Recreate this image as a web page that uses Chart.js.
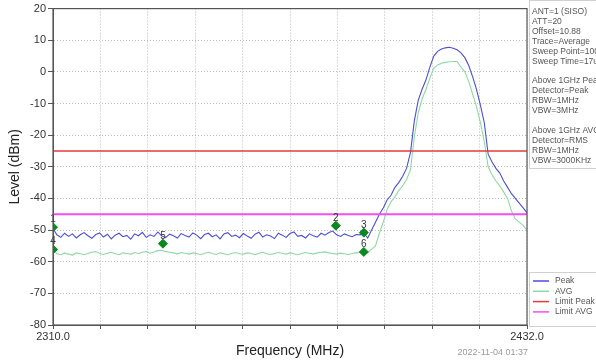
<!DOCTYPE html>
<html>
<head>
<meta charset="utf-8">
<script src="https://cdn.jsdelivr.net/npm/chart.js@4.4.1/dist/chart.umd.min.js"></script>
<style>
html,body{margin:0;padding:0;background:#fff;}
#wrap{position:relative;width:596px;height:360px;}
</style>
</head>
<body>
<div id="wrap"><canvas id="c" width="596" height="360"></canvas></div>
<script>
// ---- data ----
const freqs = [
2310,2311,2312,2313,2314,2315,2316,2317,2318,2319,
2320,2321,2322,2323,2324,2325,2326,2327,2328,2329,
2330,2331,2332,2333,2334,2335,2336,2337,2338,2339,
2340,2341,2342,2343,2344,2345,2346,2347,2348,2349,
2350,2351,2352,2353,2354,2355,2356,2357,2358,2359,
2360,2361,2362,2363,2364,2365,2366,2367,2368,2369,
2370,2371,2372,2373,2374,2375,2376,2377,2378,2379,
2380,2381,2382,2383,2384,2385,2386,2387,2388,2389,
2390,2391,2392,2393,2394,2395,2396,2397,2398,2399,
2400,2401,2402,2403,2404,2405,2406,2407,2408,2409,
2410,2411,2412,2413,2414,2415,2416,2417,2418,2419,
2420,2421,2422,2423,2424,2425,2426,2427,2428,2429,
2430,2431,2432];

const peakLevels = [
-49.5,-51.5,-52.3,-51.0,-52.0,-51.2,-52.5,-51.5,-50.8,-51.8,
-52.6,-51.4,-50.9,-52.2,-51.3,-52.8,-51.6,-51.0,-52.1,-51.7,
-52.9,-51.2,-51.8,-50.7,-52.3,-51.5,-52.0,-50.6,-51.9,-52.4,
-51.3,-51.8,-52.5,-51.1,-51.7,-52.2,-50.9,-51.6,-52.7,-51.4,
-51.0,-52.1,-51.5,-52.8,-51.2,-50.8,-52.0,-51.6,-52.4,-51.1,
-51.9,-52.6,-51.3,-50.7,-52.2,-51.5,-51.9,-52.7,-51.0,-51.6,
-52.3,-51.1,-50.6,-52.0,-51.7,-52.5,-51.2,-51.8,-52.2,-51.0,
-51.6,-50.8,-50.3,-51.5,-52.0,-51.2,-51.7,-52.1,-51.4,-51.5,
-51.0,-52.5,-50.0,-47.5,-45.0,-43.0,-40.5,-39.0,-36.5,-35.0,
-33.0,-30.5,-25.5,-15.5,-9.0,-5.5,-2.5,1.5,5.0,6.5,
7.2,7.6,7.8,7.5,7.0,6.0,4.5,2.0,-1.5,-5.5,
-10.5,-16.0,-26.0,-28.5,-30.5,-32.0,-34.5,-36.5,-38.5,-40.0,
-41.5,-43.0,-44.5];

const avgLevels = [
-56.0,-57.5,-57.8,-57.3,-57.6,-57.9,-57.2,-57.5,-57.8,-57.4,
-57.0,-56.8,-57.4,-57.7,-57.3,-57.0,-57.5,-57.8,-57.2,-57.4,
-57.6,-57.1,-57.4,-57.0,-56.8,-57.3,-56.9,-56.5,-56.4,-56.8,
-57.0,-57.2,-57.5,-57.1,-57.3,-57.6,-57.2,-57.4,-57.8,-57.3,
-57.0,-57.4,-57.7,-57.2,-57.5,-57.8,-57.4,-57.1,-57.5,-57.6,
-57.2,-57.4,-57.8,-57.3,-57.0,-57.5,-57.7,-57.4,-57.1,-57.3,
-57.6,-57.2,-57.5,-57.8,-57.4,-57.1,-57.3,-57.6,-57.2,-57.0,
-56.9,-57.2,-57.4,-57.6,-57.3,-57.5,-57.7,-57.4,-57.2,-57.1,
-57.0,-57.2,-56.0,-55.0,-51.0,-47.5,-43.5,-41.0,-39.5,-37.5,
-36.0,-34.0,-31.0,-20.5,-13.0,-8.5,-5.5,-2.0,1.2,2.2,
2.7,3.0,3.2,3.3,3.3,1.5,0.0,-3.0,-7.0,-11.0,
-16.0,-22.0,-30.0,-32.5,-34.5,-36.0,-38.0,-40.0,-44.0,-46.5,
-47.5,-48.5,-50.0];

const limitPeak = -25;
const limitAvg = -45;

const markerNames  = ["1","2","3","4","5","6"];
const markerFreqs  = [2310.0, 2382.8, 2390.0, 2310.0, 2338.3, 2390.0];
const markerLevels = [-49.1, -48.6, -50.8, -56.1, -54.3, -56.9];

const xTicks = [2310,2322.2,2334.4,2346.6,2358.8,2371,2383.2,2395.4,2407.6,2419.8,2432];
const yTicks = [20,10,0,-10,-20,-30,-40,-50,-60,-70,-80];

const infoLines = ["ANT=1 (SISO)","ATT=20","Offset=10.88","Trace=Average","Sweep Point=1001","Sweep Time=17us",
  "","Above 1GHz Peak","Detector=Peak","RBW=1MHz","VBW=3MHz","","Above 1GHz AVG","Detector=RMS","RBW=1MHz","VBW=3000KHz"];
const legendNames = ["Peak","AVG","Limit Peak","Limit AVG"];
const timestamp = "2022-11-04 01:37";

// ---- styles ----
const COLORS = {peak:'#4d4dd6', avg:'#8fd8a4', limPeak:'#e33a3a', limAvg:'#f54cf5', marker:'#0a8a1e'};
const FONT = "'Liberation Sans', Arial, sans-serif";

const xMin = xTicks[0], xMax = xTicks[xTicks.length-1];

const extrasPlugin = {
  id:'extras',
  afterDatasetsDraw(chart){
    const ctx = chart.ctx;
    const meta = chart.getDatasetMeta(4);
    ctx.save();
    ctx.font = "10px " + FONT;
    ctx.fillStyle = '#333';
    ctx.textAlign = 'center';
    ctx.textBaseline = 'alphabetic';
    meta.data.forEach((pt,i)=>{
      ctx.fillText(markerNames[i], pt.x, pt.y - 5);
    });
    ctx.restore();
  },
  afterDraw(chart){
    const ctx = chart.ctx;
    const ca = chart.chartArea;
    ctx.save();
    // frame
    ctx.strokeStyle = '#555';
    ctx.lineWidth = 1.2;
    ctx.strokeRect(ca.left, ca.top, ca.right-ca.left, ca.bottom-ca.top);
    // info box
    ctx.strokeStyle = '#d0d0d0';
    ctx.lineWidth = 1;
    ctx.strokeRect(529.5, 0.5, 80, 168);
    ctx.font = "8.5px " + FONT;
    ctx.fillStyle = '#555';
    ctx.textAlign = 'left';
    ctx.textBaseline = 'middle';
    infoLines.forEach((t,i)=>{
      ctx.fillText(t, 532, 11.5 + i*9.95);
    });
    // legend box
    ctx.strokeStyle = '#d0d0d0';
    ctx.strokeRect(529.5, 272.5, 80, 54);
    const lcols = [COLORS.peak, COLORS.avg, COLORS.limPeak, COLORS.limAvg];
    legendNames.forEach((t,i)=>{
      const y = 281 + i*10.3;
      ctx.strokeStyle = lcols[i];
      ctx.lineWidth = 1.5;
      ctx.beginPath(); ctx.moveTo(533, y); ctx.lineTo(549, y); ctx.stroke();
      ctx.fillStyle = '#555';
      ctx.fillText(t, 555, y);
    });
    // timestamp
    ctx.font = "9px " + FONT;
    ctx.fillStyle = '#9a9a9a';
    ctx.textAlign = 'right';
    ctx.fillText(timestamp, 528, 353);
    ctx.restore();
  }
};

new Chart(document.getElementById('c'), {
  type:'line',
  data:{
    datasets:[
      {label:'Peak', data:freqs.map((f,i)=>({x:f,y:peakLevels[i]})), borderColor:COLORS.peak, borderWidth:1.1, pointRadius:0, order:3},
      {label:'AVG', data:freqs.map((f,i)=>({x:f,y:avgLevels[i]})), borderColor:COLORS.avg, borderWidth:1.1, pointRadius:0, order:4},
      {label:'Limit Peak', data:[{x:xMin,y:limitPeak},{x:xMax,y:limitPeak}], borderColor:COLORS.limPeak, borderWidth:1.3, pointRadius:0, order:2},
      {label:'Limit AVG', data:[{x:xMin,y:limitAvg},{x:xMax,y:limitAvg}], borderColor:COLORS.limAvg, borderWidth:2, pointRadius:0, order:1},
      {label:'Markers', type:'scatter', data:markerFreqs.map((f,i)=>({x:f,y:markerLevels[i]})),
        pointStyle:'rectRot', pointRadius:4.5, backgroundColor:COLORS.marker, borderColor:COLORS.marker, showLine:false, order:0}
    ]
  },
  options:{
    animation:false,
    responsive:false,
    devicePixelRatio:1,
    layout:{padding:{top:7, right:69, left:0, bottom:0}},
    plugins:{legend:{display:false}, tooltip:{enabled:false}, title:{display:false}},
    elements:{line:{tension:0}},
    scales:{
      x:{
        type:'linear', min:xMin, max:xMax,
        afterBuildTicks(s){ s.ticks = xTicks.map(v=>({value:v})); },
        afterFit(s){ s.height = 35; },
        grid:{color:'#bdbdbd', lineWidth:1, tickColor:'#555', tickLength:4, drawTicks:true},
        border:{display:true, color:'#555', dash:[1,2]},
        ticks:{autoSkip:false, maxRotation:0, padding:1, color:'#333', font:{family:FONT, size:11},
          callback(v,i){ return (i===0||i===xTicks.length-1) ? Number(v).toFixed(1) : ''; }},
        title:{display:true, text:'Frequency (MHz)', color:'#222', font:{family:FONT, size:14}, padding:{top:0,bottom:0}}
      },
      y:{
        type:'linear', min:-80, max:20,
        afterBuildTicks(s){ s.ticks = yTicks.map(v=>({value:v})); },
        afterFit(s){ s.width = 53; },
        grid:{color:'#bdbdbd', lineWidth:1, tickColor:'#555', tickLength:5},
        border:{display:true, color:'#555', dash:[1,2]},
        ticks:{padding:2, color:'#333', font:{family:FONT, size:11}},
        title:{display:true, text:'Level (dBm)', color:'#222', font:{family:FONT, size:14}, padding:{top:7,bottom:0}}
      }
    }
  },
  plugins:[extrasPlugin]
});
</script>
</body>
</html>
